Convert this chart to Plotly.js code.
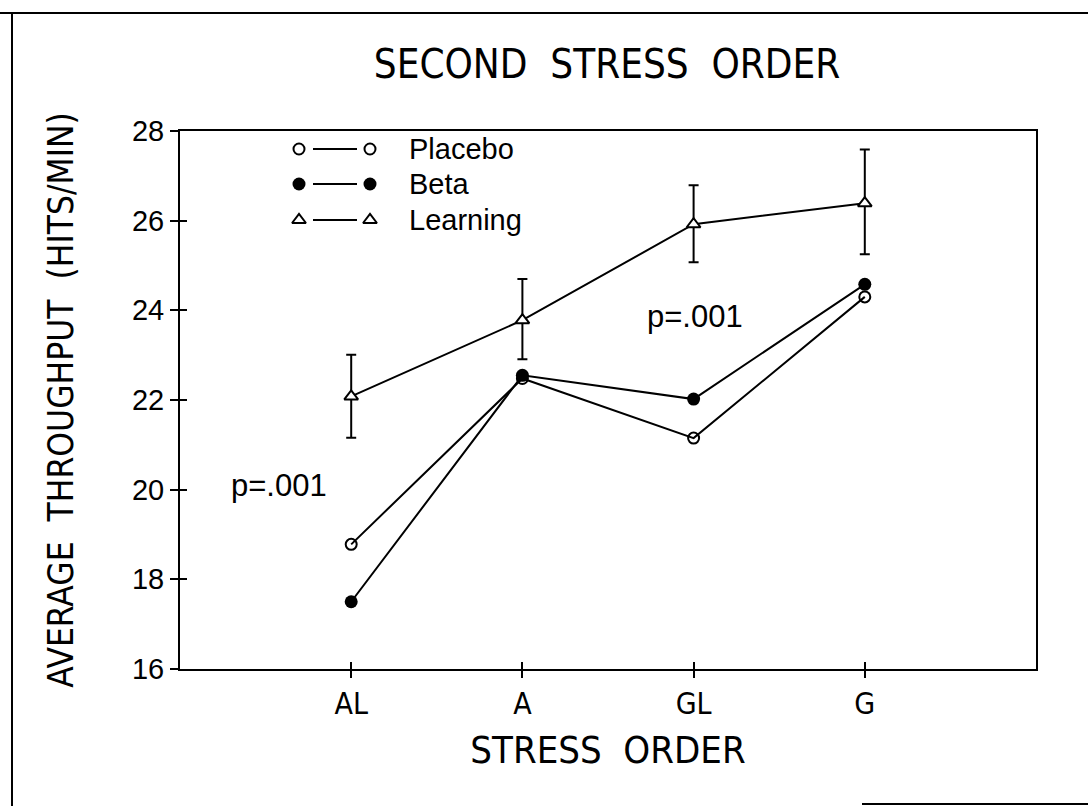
<!DOCTYPE html>
<html>
<head>
<meta charset="utf-8">
<script src="https://cdn.plot.ly/plotly-3.0.1.min.js"></script>
<style>html,body{margin:0;padding:0;background:#fff;}</style>
</head>
<body>
<div id="chart" style="width:1088px;height:806px;"></div>
<script>
// ---- data ----
const categories = ['AL', 'A', 'GL', 'G'];
const categoryPos = [1, 2, 3, 4];
const placebo = [18.78, 22.48, 21.15, 24.3];
const beta = [17.5, 22.55, 22.02, 24.58];
const learning = [22.08, 23.78, 25.92, 26.39];
const learningErrPlus = [0.93, 0.92, 0.87, 1.2];
const learningErrMinus = [0.92, 0.87, 0.85, 1.14];
const yTicks = [16, 18, 20, 22, 24, 26, 28];
const seriesNames = ['Placebo', 'Beta', 'Learning'];
const pNotes = [{x: 0.58, y: 20.1, text: 'p=.001'}, {x: 3.01, y: 23.87, text: 'p=.001'}];

// ---- styling ----
const narrow = "'Liberation Sans Narrow', 'DejaVu Sans Condensed', 'Arial Narrow', sans-serif";
const sans = "'Liberation Sans', Arial, sans-serif";
const W = 1088, H = 806, L = 180, R = 52, T = 131, B = 137;
const plotW = W - L - R, plotH = H - T - B;
const px = x => (x - L) / plotW;          // pixel -> paper
const py = y => (H - B - y) / plotH;

const styles = {
  Placebo: {symbol: 'circle-open', size: 11, line: {width: 2, color: '#000'}, color: '#000'},
  Beta: {symbol: 'circle', size: 13, color: '#000'},
  Learning: {symbol: 'triangle-up', size: 12, color: '#fff', line: {width: 2, color: '#000'}}
};

const traces = [];
traces.push({
  x: categoryPos, y: placebo, name: 'Placebo', mode: 'lines+markers', type: 'scatter',
  line: {color: '#000', width: 2}, marker: styles.Placebo, showlegend: false
});
traces.push({
  x: categoryPos, y: beta, name: 'Beta', mode: 'lines+markers', type: 'scatter',
  line: {color: '#000', width: 2}, marker: styles.Beta, showlegend: false
});
traces.push({
  x: categoryPos, y: learning, name: 'Learning', mode: 'lines+markers', type: 'scatter',
  line: {color: '#000', width: 2}, marker: styles.Learning, showlegend: false,
  error_y: {type: 'data', symmetric: false, array: learningErrPlus, arrayminus: learningErrMinus,
            color: '#000', thickness: 2, width: 5}
});

// overlay axes for the inner half of the crossing ticks
traces.push({x: [null], y: [null], xaxis: 'x3', yaxis: 'y3', showlegend: false, hoverinfo: 'skip', mode: 'markers'});

// custom legend (marker — line — marker) drawn on a pixel-mapped axis pair
const legendRowY = [149, 184, 220];
const legendLeftX = 299, legendRightX = 370, legendLineX = [313, 357], legendTextX = 407;
seriesNames.forEach((n, i) => {
  traces.push({x: legendLineX, y: [legendRowY[i], legendRowY[i]], xaxis: 'x2', yaxis: 'y2',
    mode: 'lines', line: {color: '#000', width: 2}, showlegend: false, hoverinfo: 'skip'});
  traces.push({x: [legendLeftX, legendRightX], y: [legendRowY[i], legendRowY[i]], xaxis: 'x2', yaxis: 'y2',
    mode: 'markers', marker: styles[n], showlegend: false, hoverinfo: 'skip'});
});

const annotations = [];
seriesNames.forEach((n, i) => {
  annotations.push({xref: 'x2', yref: 'y2', x: legendTextX, y: legendRowY[i], text: n,
    showarrow: false, xanchor: 'left', yanchor: 'middle', font: {family: sans, size: 29, color: '#000'}});
});
pNotes.forEach(p => annotations.push({x: p.x, y: p.y, xref: 'x', yref: 'y', text: p.text, showarrow: false,
  xanchor: 'center', yanchor: 'middle', font: {family: sans, size: 31, color: '#000'}}));

const frame = {color: '#000', width: 2};
const shapes = [
  {type: 'line', xref: 'paper', yref: 'paper', x0: px(0), x1: px(W), y0: py(13), y1: py(13), line: frame},
  {type: 'line', xref: 'paper', yref: 'paper', x0: px(12), x1: px(12), y0: py(13), y1: py(H), line: frame},
  {type: 'line', xref: 'paper', yref: 'paper', x0: px(862), x1: px(W), y0: py(804), y1: py(804), line: frame}
];

const layout = {
  width: W, height: H,
  margin: {l: L, r: R, t: T, b: B, pad: 0},
  paper_bgcolor: '#fff', plot_bgcolor: '#fff',
  showlegend: false,
  title: {text: 'SECOND&nbsp;&nbsp;STRESS&nbsp;&nbsp;ORDER', x: px(607), xanchor: 'center', xref: 'paper',
          y: 1 - 64 / H, yanchor: 'middle', yref: 'container',
          font: {family: narrow, size: 40, color: '#000'}},
  xaxis: {
    range: [0, 5], tickvals: categoryPos, ticktext: categories,
    ticks: 'outside', ticklen: 7, tickwidth: 2, tickcolor: '#000',
    showline: true, linewidth: 2, linecolor: '#000', mirror: true,
    showgrid: false, zeroline: false,
    tickfont: {family: narrow, size: 30, color: '#000'},
    title: {text: 'STRESS&nbsp;&nbsp;ORDER', standoff: 16, font: {family: narrow, size: 38, color: '#000'}}
  },
  yaxis: {
    range: [16, 28], tickvals: yTicks,
    ticks: 'outside', ticklen: 8, tickwidth: 2, tickcolor: '#000',
    showline: true, linewidth: 2, linecolor: '#000', mirror: true,
    showgrid: false, zeroline: false,
    tickfont: {family: sans, size: 29, color: '#000'},
    title: {text: 'AVERAGE&nbsp;&nbsp;THROUGHPUT&nbsp;&nbsp;(HITS/MIN)', standoff: 48, font: {family: narrow, size: 35, color: '#000'}}
  },
  xaxis3: {overlaying: 'x', anchor: 'y3', range: [0, 5], tickvals: categoryPos, ticks: 'inside', ticklen: 7, tickwidth: 2,
           tickcolor: '#000', showticklabels: false, showline: false, showgrid: false, zeroline: false, side: 'bottom'},
  yaxis3: {overlaying: 'y', anchor: 'x3', range: [16, 28], tickvals: yTicks, ticks: 'inside', ticklen: 7, tickwidth: 2,
           tickcolor: '#000', showticklabels: false, showline: false, showgrid: false, zeroline: false, side: 'left'},
  xaxis2: {overlaying: 'x', anchor: 'y2', range: [L, W - R], visible: false, fixedrange: true},
  yaxis2: {overlaying: 'y', anchor: 'x2', range: [H - B, T], visible: false, fixedrange: true},
  annotations: annotations,
  shapes: shapes
};

Plotly.newPlot('chart', traces, layout, {displayModeBar: false, staticPlot: true});
</script>
</body>
</html>
